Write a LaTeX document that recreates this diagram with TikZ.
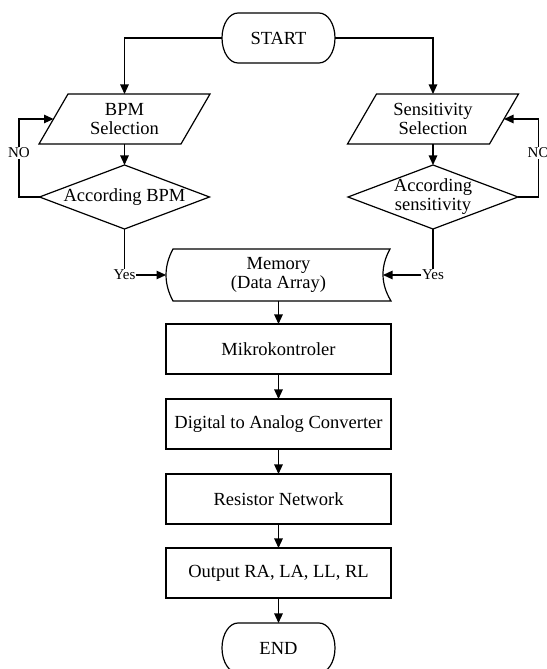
\documentclass[tikz,border=0pt]{standalone}
\usepackage{fontspec}
\setmainfont{Liberation Serif}
\usetikzlibrary{arrows.meta,shapes.geometric}
\newcommand\termshape[1]{\draw[ln] ([xshift=16]#1.north west) -- ([xshift=-16]#1.north east) arc[start angle=90,end angle=-90,x radius=16,y radius=25] -- ([xshift=16]#1.south west) arc[start angle=270,end angle=90,x radius=16,y radius=25] -- cycle;}
\newcommand\parashape[1]{\draw[ln] ([xshift=14.5]#1.north west) -- ([xshift=14.5]#1.north east) -- ([xshift=-14.5]#1.south east) -- ([xshift=-14.5]#1.south west) -- cycle;}
\newcommand\memshape[1]{\draw[ln] ([xshift=7]#1.north west) -- ([xshift=-1]#1.north east) .. controls ([xshift=-10.5,yshift=-17.3]#1.north east) and ([xshift=-10.5,yshift=17.3]#1.south east) .. (#1.south east) -- ([xshift=7]#1.south west) .. controls ([xshift=-2.3,yshift=17.3]#1.south west) and ([xshift=-2.3,yshift=-17.3]#1.north west) .. ([xshift=7]#1.north west) -- cycle;}
\begin{document}
\begin{tikzpicture}[x=1pt,y=1pt,
  ln/.style={line width=1.2pt, line join=miter},
  arr/.style={ln,-{Triangle[length=9.5pt,width=8.5pt]}},
  txt/.style={font=\fontsize{18.5}{19}\selectfont, align=center, inner sep=0pt, outer sep=0pt},
  box/.style={txt, draw, ln, minimum width=225, minimum height=50},
  termnode/.style={txt, minimum width=113, minimum height=50},
  paranode/.style={txt, minimum width=142, minimum height=50},
  memnode/.style={txt, minimum width=225, minimum height=52},
  dec/.style={txt, diamond, draw, ln, minimum width=170, minimum height=64, shape aspect=2.66},
  lbl/.style={font=\fontsize{15}{16}\selectfont, inner sep=1pt, outer sep=0pt, fill=white}
]
\useasboundingbox (0,0) rectangle (546,669);
\fill[white] (0,0) rectangle (546,669);

% nodes
\node[termnode] (start) at (278.5,631) {START};
\termshape{start}
\node[paranode] (bpm) at (124.5,550) {BPM\\Selection};
\parashape{bpm}
\node[paranode] (sens) at (433,550) {Sensitivity\\Selection};
\parashape{sens}
\node[dec] (d1) at (124.5,472) {\makebox[0pt]{According BPM}};
\node[dec] (d2) at (433,472) {\makebox[0pt]{\begin{tabular}{@{}c@{}}According\\sensitivity\end{tabular}}};
\node[memnode] (mem) at (278.5,394) {Memory\\(Data Array)};
\memshape{mem}
\node[box] (mk) at (278.5,320) {Mikrokontroler};
\node[box] (dac) at (278.5,245) {Digital to Analog Converter};
\node[box] (res) at (278.5,170) {Resistor Network};
\node[box] (out) at (278.5,96) {Output RA, LA, LL, RL};
\node[termnode] (end) at (278.5,21) {END};
\termshape{end}

% connectors
\draw[arr] (start.west) -| (bpm.north);
\draw[arr] (start.east) -| (sens.north);
\draw[arr] (bpm.south) -- (d1.north);
\draw[arr] (sens.south) -- (d2.north);
\draw[arr] (d1.west) -- ++(-20.5,0) |- (bpm.west);
\draw[arr] (d2.east) -- ++(20.5,0) |- (sens.east);
\node[lbl] (no1) at (19,516) {NO};
\node[lbl] (no2) at (538.5,516) {NO};

\node[lbl] (yes1) at (124.5,394) {Yes};
\node[lbl] (yes2) at (433,394) {Yes};
\draw[ln] (d1.south) -- (yes1.north);
\draw[ln] (d2.south) -- (yes2.north);
\draw[arr] (yes1.east) -- (mem.west);
\draw[arr] (yes2.west) -- ([xshift=-8]mem.east);

\draw[arr] (mem.south) -- (mk.north);
\draw[arr] (mk.south) -- (dac.north);
\draw[arr] (dac.south) -- (res.north);
\draw[arr] (res.south) -- (out.north);
\draw[arr] (out.south) -- (end.north);
\end{tikzpicture}
\end{document}
